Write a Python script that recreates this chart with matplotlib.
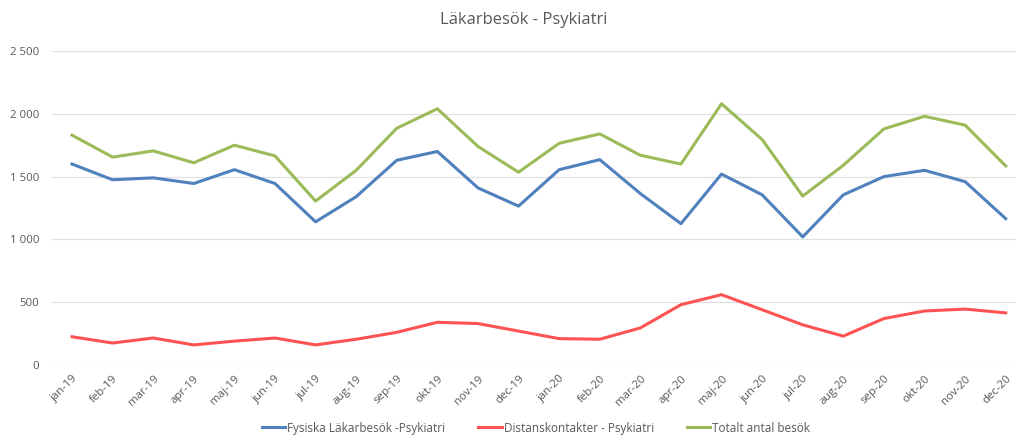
import matplotlib
matplotlib.use("Agg")
import matplotlib.pyplot as plt
from matplotlib.ticker import FuncFormatter

months = ["jan-19", "feb-19", "mar-19", "apr-19", "maj-19", "jun-19",
          "jul-19", "aug-19", "sep-19", "okt-19", "nov-19", "dec-19",
          "jan-20", "feb-20", "mar-20", "apr-20", "maj-20", "jun-20",
          "jul-20", "aug-20", "sep-20", "okt-20", "nov-20", "dec-20"]

fysiska = [1600, 1475, 1490, 1445, 1555, 1445, 1140, 1340, 1630, 1700, 1410, 1265,
           1555, 1635, 1365, 1125, 1520, 1355, 1020, 1355, 1500, 1550, 1460, 1165]
distans = [225, 175, 215, 160, 190, 215, 160, 205, 260, 340, 330, 270,
           210, 205, 295, 480, 560, 440, 320, 230, 370, 430, 445, 415]
totalt = [1830, 1655, 1705, 1610, 1750, 1665, 1305, 1550, 1885, 2040, 1740, 1535,
          1765, 1840, 1670, 1600, 2080, 1795, 1345, 1590, 1880, 1980, 1910, 1585]

grey = "#595959"
plt.rcParams["font.family"] = ["Open Sans", "DejaVu Sans"]

fig = plt.figure(figsize=(10.16, 4.36), dpi=100)
ax = fig.add_axes([51.7 / 1016, 1 - 365 / 436, (1026 - 51.7) / 1016, 314 / 436])

x = range(len(months))
ax.plot(x, fysiska, color="#4F81BD", lw=2.2, label="Fysiska Läkarbesök -Psykiatri")
ax.plot(x, distans, color="#FF5252", lw=2.2, label="Distanskontakter - Psykiatri")
ax.plot(x, totalt, color="#9BBB59", lw=2.2, label="Totalt antal besök")

ax.set_xlim(-0.5, len(months) - 0.5)
ax.set_ylim(0, 2500)
ax.set_yticks(range(0, 2501, 500))
ax.yaxis.set_major_formatter(FuncFormatter(lambda v, p: f"{int(v):,}".replace(",", " ")))
ax.set_xticks(list(x))
ax.set_xticklabels(months, rotation=45, ha="right", rotation_mode="anchor")
ax.tick_params(axis="both", length=0, colors=grey, labelsize=8.2)
ax.tick_params(axis="x", pad=6)
ax.tick_params(axis="y", pad=9)
ax.grid(axis="y", color="#E0E0E0", lw=0.9)
ax.set_axisbelow(True)
for s in ax.spines.values():
    s.set_visible(False)

fig.text(0.515, 1 - 20 / 436, "Läkarbesök - Psykiatri", ha="center", va="center",
         fontsize=12, color=grey)

fig.legend(loc="center", bbox_to_anchor=(536 / 1016, 1 - 428 / 436), ncol=3,
           frameon=False, fontsize=8.5, labelcolor=grey, handlelength=2.0,
           handletextpad=0.15, columnspacing=2.8, borderpad=0.1)

fig.savefig("out.png", dpi=100)
